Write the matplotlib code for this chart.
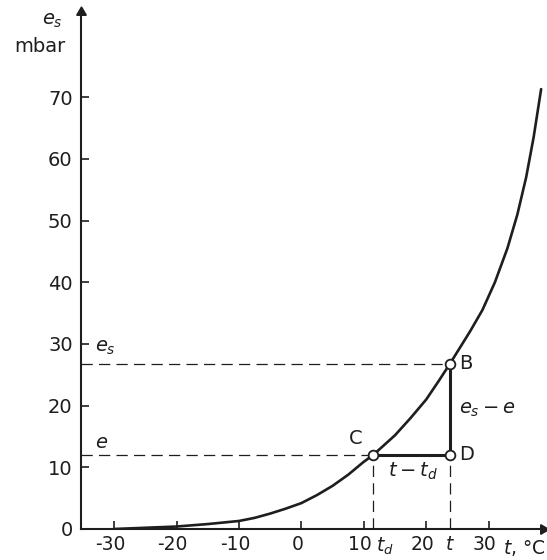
import matplotlib
matplotlib.use("Agg")
from matplotlib import pyplot as plt
from matplotlib import transforms

# saturation vapour pressure curve
temps = [-30, -25, -20, -15, -10, -7.5, -5, -2.5, 0, 2.5, 5, 7.5, 10, 11.5, 15, 17.5,
         20, 22, 23.8, 27, 29, 31, 33, 34.6, 36, 37.2, 38.4]
es_vals = [0.0, 0.2, 0.4, 0.8, 1.3, 1.8, 2.5, 3.3, 4.2, 5.5, 7.0, 8.8, 10.9, 12.0, 15.2, 18.0,
           21.0, 24.0, 26.8, 32.0, 35.5, 40.0, 45.5, 51.0, 57.0, 63.5, 71.3]

x_ticks = [-30, -20, -10, 0, 10, 20, 30]
y_ticks = [0, 10, 20, 30, 40, 50, 60, 70]

# state points
t_d, t_air = 11.5, 23.8
e_act, e_sat = 12.0, 26.8

ink = "#1e1e1e"
plt.rcParams['font.family'] = ['DejaVu Sans']
plt.rcParams['mathtext.fontset'] = 'dejavusans'
plt.rcParams['axes.unicode_minus'] = False

fig = plt.figure(figsize=(5.47, 5.6), dpi=100)
W, H = 547, 560
ax = fig.add_axes([81 / W, 31 / H, (543 - 81) / W, (529 - 12) / H])
ax.set_xlim(-35.3, 38.7)
ax.set_ylim(0, 83.8)

for s in ['top', 'right']:
    ax.spines[s].set_visible(False)
for s in ['left', 'bottom']:
    ax.spines[s].set_linewidth(1.5)
    ax.spines[s].set_color(ink)

# arrow heads
ax.plot(1, 0, marker=(3, 0, -90), ms=8, color=ink, transform=ax.transAxes, clip_on=False)
ax.plot(0, 1, marker=(3, 0, 0), ms=8, color=ink, transform=ax.transAxes, clip_on=False)

fs = 14
ax.set_xticks(x_ticks)
ax.set_yticks(y_ticks)
ax.tick_params(direction='in', length=6, width=1.2, color=ink, labelsize=fs,
               labelcolor=ink)
ax.tick_params(axis='x', pad=4, labelsize=13.5)
ax.tick_params(axis='y', pad=6)
shift = transforms.ScaledTranslation(-4 / 100, 0, fig.dpi_scale_trans)
for lab in ax.get_xticklabels():
    lab.set_transform(lab.get_transform() + shift)

# curve
ax.plot(temps, es_vals, color=ink, lw=1.9, solid_capstyle='round', solid_joinstyle='round')

# dashed guides
dash = dict(color=ink, lw=0.9, dashes=(9, 5))
ax.plot([-35.3, t_air], [e_sat, e_sat], **dash)
ax.plot([-35.3, t_d], [e_act, e_act], **dash)
ax.plot([t_d, t_d], [0, e_act], **dash)
ax.plot([t_air, t_air], [0, e_act], **dash)

# solid triangle legs
ax.plot([t_d, t_air], [e_act, e_act], color=ink, lw=2.2)
ax.plot([t_air, t_air], [e_act, e_sat], color=ink, lw=2.2)

ax.plot([t_air, t_d, t_air], [e_sat, e_act, e_act], 'o', ms=7, mfc='white',
        mec=ink, mew=1.3, zorder=5)

ax.text(25.3, e_sat, 'B', fontsize=fs, color=ink, va='center', ha='left')
ax.text(25.3, e_act, 'D', fontsize=fs, color=ink, va='center', ha='left')
ax.text(9.8, 14.6, 'C', fontsize=fs, color=ink, va='center', ha='right')
ax.text(25.3, 19.3, r'$e_s-e$', fontsize=fs, color=ink, va='center', ha='left')
ax.text(17.8, 9.3, r'$t-t_d$', fontsize=fs, color=ink, va='center', ha='center')
ax.text(-33.0, 29.4, r'$e_s$', fontsize=fs, color=ink, va='center', ha='left')
ax.text(-33.0, 14.0, r'$e$', fontsize=fs, color=ink, va='center', ha='left')

# extra labels under the axis
xt = ax.get_xaxis_transform()
ax.text(t_d + 0.4, -0.012, r'$t_d$', transform=xt, fontsize=13.5, color=ink, va='top', ha='left')
ax.text(t_air, -0.012, r'$t$', transform=xt, fontsize=13.5, color=ink, va='top', ha='center')
fig.text(546 / W, 1 - 538 / H, r'$t$, °C', fontsize=13.5, color=ink, va='top', ha='right')

# y axis title
fig.text(52 / W, 1 - 20 / H, r'$e_s$', fontsize=fs, color=ink, ha='center', va='center')
fig.text(40 / W, 1 - 47 / H, 'mbar', fontsize=fs, color=ink, ha='center', va='center')

fig.savefig('out.png', dpi=100)
